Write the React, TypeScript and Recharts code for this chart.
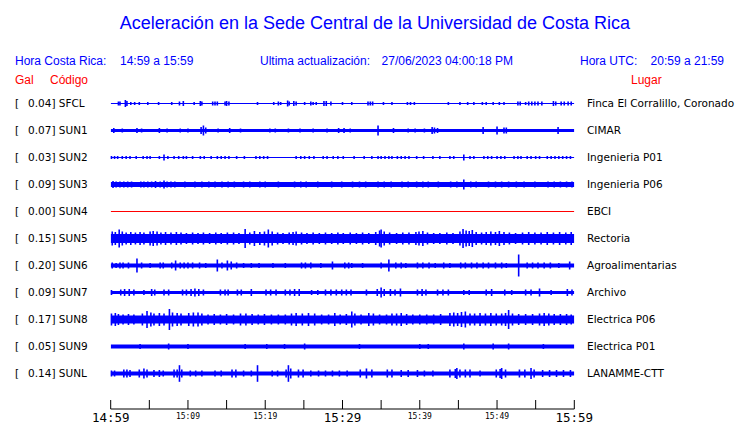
import React from 'react';
import { ComposedChart, Area, Scatter, ErrorBar, XAxis, YAxis } from 'recharts';

const stationCodes = ['SFCL', 'SUN1', 'SUN2', 'SUN3', 'SUN4', 'SUN5', 'SUN6', 'SUN7', 'SUN8', 'SUN9', 'SUNL'];
const peakGal = [0.04, 0.07, 0.03, 0.09, 0.0, 0.15, 0.2, 0.09, 0.17, 0.05, 0.14];
const places = [
  'Finca El Corralillo, Coronado',
  'CIMAR',
  'Ingenieria P01',
  'Ingenieria P06',
  'EBCI',
  'Rectoria',
  'Agroalimentarias',
  'Archivo',
  'Electrica P06',
  'Electrica P01',
  'LANAMME-CTT',
];

// amplitudes are in 1/27 of the distance between two traces
const TRACE_UNIT = 27;
// continuous background noise, half height
const noiseLevel = [0.5, 1.5, 0.6, 2.5, 0.5, 4.5, 2, 1.5, 4, 2, 2];

// [minute after 14:59, half height]
const sfclBursts = [
  [1.0, 2], [1.2, 2], [1.9, 3.5], [2.1, 2.5], [2.6, 1.5], [3.1, 1.5], [3.7, 1.5], [4.8, 1.5], [6.2, 1.5],
  [7.9, 1.5], [8.9, 2], [9.4, 2.5], [10.8, 1.5], [11.6, 2.5], [11.8, 2], [13.2, 2], [13.5, 2], [13.8, 2],
  [14.8, 2], [15.0, 2.5], [15.3, 2], [19.0, 1.5], [21.1, 1.5], [21.7, 2], [22.0, 1.5], [22.9, 3], [23.1, 2],
  [23.7, 2.5], [24.0, 2], [25.1, 1.5], [25.9, 2], [26.2, 1.5], [26.6, 1.5], [27.6, 2.5], [27.9, 2.5],
  [28.5, 2], [30.0, 1.5], [31.2, 1.5], [33.3, 2], [33.6, 2], [33.9, 2], [35.3, 1.5], [36.4, 1.5],
  [38.4, 1.5], [38.8, 1.5], [39.3, 1.5], [43.7, 1.5], [45.2, 1.5], [46.2, 1.5], [47.0, 1.5], [48.1, 1.5],
  [48.6, 1.5], [49.5, 1.5], [50.3, 1.5], [50.9, 1.5], [52.7, 2], [53.0, 2], [53.7, 1.5], [54.1, 2],
  [54.5, 2], [54.9, 2], [55.3, 2], [55.8, 2], [57.3, 2.5], [57.6, 2], [58.3, 2], [58.7, 2], [59.2, 2], [59.6, 2],
];
const sun1Bursts = [
  [0.4, 2.5], [1.5, 2], [3.4, 2.5], [4.0, 2], [6.3, 2.5], [7.3, 2], [9.0, 2], [10.0, 2], [11.7, 3.5],
  [12.0, 5], [12.3, 3], [13.9, 2], [15.4, 2.5], [16.8, 2], [20.6, 2], [21.3, 2], [23.0, 2], [24.5, 2],
  [26.2, 2], [28.0, 2], [29.5, 2.5], [30.2, 2.5], [31.0, 2], [34.6, 5], [36.6, 2.5], [38.5, 2], [39.4, 2],
  [40.6, 2], [41.6, 3.5], [41.9, 3], [42.3, 2.5], [48.2, 3.5], [50.0, 4], [50.9, 3], [51.2, 3], [57.9, 3.5],
];
const sun2Bursts = [
  [0.1, 1.5], [0.5, 1.5], [0.9, 1.5], [1.5, 1.5], [2.0, 1.5], [2.5, 1.5], [3.3, 1.5], [4.2, 1.5], [4.7, 1.5],
  [5.1, 1.5], [6.3, 1.5], [6.9, 3], [7.4, 1.5], [8.2, 1.5], [8.8, 1.5], [9.4, 1.5], [9.8, 1.5], [10.6, 1.5],
  [11.6, 1.5], [12.1, 1.5], [13.0, 1.5], [13.8, 1.5], [14.3, 1.5], [14.8, 1.5], [15.3, 1.5], [16.3, 1.5],
  [17.3, 1.5], [18.8, 1.5], [19.3, 1.5], [19.8, 1.5], [20.3, 1.5], [24.0, 1.5], [24.6, 1.5], [25.1, 1.5],
  [25.7, 1.5], [26.3, 1.5], [27.5, 1.5], [28.0, 1.5], [28.8, 1.5], [29.4, 1.5], [30.1, 1.5], [31.5, 1.5],
  [32.8, 1.5], [33.8, 1.5], [34.6, 1.5], [35.0, 1.5], [35.5, 1.5], [36.0, 1.5], [36.4, 1.5], [37.1, 1.5],
  [37.6, 1.5], [38.1, 1.5], [38.6, 1.5], [39.6, 1.5], [40.5, 1.5], [41.7, 1.5], [42.6, 1.5], [43.9, 1.5],
  [44.4, 1.5], [45.7, 3], [46.5, 1.5], [47.0, 1.5], [48.3, 1.5], [48.8, 1.5], [49.3, 1.5], [50.0, 1.5],
  [50.5, 1.5], [51.0, 1.5], [52.2, 1.5], [52.7, 1.5], [53.1, 1.5], [53.9, 1.5], [54.4, 1.5], [55.0, 1.5],
  [55.5, 1.5], [56.5, 1.5], [57.0, 1.5], [57.5, 1.5], [58.0, 1.5], [58.5, 1.5], [59.0, 1.5], [59.5, 1.5],
];
const sun3Bursts = [
  [0.3, 3.5], [0.7, 3], [1.2, 3], [1.7, 3], [2.2, 3], [2.7, 3], [3.9, 3], [4.3, 3], [4.8, 3], [5.3, 3],
  [5.8, 3.5], [6.4, 3], [6.9, 4], [7.3, 3], [7.8, 3], [8.3, 3], [9.6, 3], [10.9, 3], [11.8, 3], [12.7, 3],
  [13.5, 3], [14.4, 3], [15.2, 3], [16.0, 3], [17.2, 3], [18.0, 3], [19.3, 3], [20.0, 3], [21.7, 3],
  [23.8, 3], [24.6, 3], [25.3, 3], [26.8, 3], [28.6, 3], [29.9, 3], [31.3, 3], [32.2, 3], [33.0, 3],
  [34.6, 3], [35.4, 3], [36.3, 3], [37.7, 3], [38.5, 3], [39.6, 3], [40.4, 3], [41.1, 3], [42.4, 3],
  [44.0, 3], [44.8, 3], [45.7, 5], [46.6, 3], [47.3, 3], [48.9, 3], [49.8, 3], [50.6, 3], [51.5, 3],
  [52.5, 3], [53.5, 3], [54.9, 3], [56.6, 3], [57.4, 3], [58.2, 3], [59.0, 3], [59.7, 3],
];
const sun4Bursts: number[][] = [];
const sun5Bursts = [
  [0.2, 7], [0.6, 6.5], [1.1, 9], [1.5, 7], [2.0, 6], [2.6, 6.5], [3.2, 6], [3.8, 6.5], [4.3, 6], [5.1, 7],
  [5.5, 7.5], [6.0, 7], [6.5, 6], [7.1, 6.5], [7.8, 6], [8.5, 6.5], [9.1, 6], [9.8, 5.5], [10.6, 6],
  [11.3, 5.5], [12.0, 6], [12.8, 5.5], [13.6, 6], [14.3, 5.5], [15.1, 6], [15.9, 6], [16.6, 5.5], [17.4, 9.5],
  [18.0, 6], [18.6, 7.5], [19.3, 6.5], [19.9, 7], [20.4, 9], [20.9, 7], [21.6, 6], [22.3, 5.5], [23.1, 6],
  [23.6, 6.5], [24.0, 7], [24.7, 6], [25.4, 5.5], [26.2, 6], [27.0, 5.5], [27.8, 6], [28.6, 5.5], [29.4, 6],
  [30.1, 5.5], [31.0, 6], [31.8, 5.5], [32.6, 6], [33.4, 5.5], [34.3, 6.5], [34.8, 8], [35.0, 9], [35.4, 7],
  [36.1, 6], [37.0, 5.5], [37.8, 6], [38.6, 6], [39.5, 6.5], [39.9, 7], [40.4, 7.5], [41.0, 6], [41.8, 5.5],
  [42.6, 5.5], [43.5, 6], [44.3, 5.5], [45.2, 7], [45.6, 9.5], [46.0, 8], [46.4, 7.5], [46.8, 8.5],
  [47.3, 6.5], [48.0, 6], [48.6, 6.5], [49.2, 7], [49.8, 6.5], [50.3, 7.5], [50.9, 6.5], [51.6, 6],
  [52.4, 5.5], [53.3, 6], [54.1, 6.5], [54.9, 6], [55.7, 6], [56.5, 6.5], [57.3, 6], [58.1, 6.5], [58.9, 6],
  [59.6, 6.5],
];
const sun6Bursts = [
  [0.2, 3], [0.7, 2.5], [1.2, 3], [1.6, 3], [2.3, 3], [3.4, 7], [4.0, 3], [5.1, 2.5], [6.4, 3], [6.8, 3],
  [7.9, 3], [8.4, 5], [9.0, 3], [9.5, 3], [10.0, 3], [10.6, 3], [11.5, 3], [12.3, 2.5], [13.8, 6],
  [14.4, 3], [15.1, 5], [15.6, 4], [16.3, 3], [17.2, 2.5], [18.2, 2.5], [19.2, 2.5], [21.0, 2.5],
  [22.6, 2.5], [24.7, 3], [25.2, 3], [25.9, 3], [27.2, 2.5], [28.7, 4], [30.3, 3], [30.8, 3], [31.2, 2.5],
  [32.6, 2.5], [35.0, 3], [36.0, 6], [36.9, 3], [37.6, 3], [38.2, 2.5], [39.7, 3], [40.4, 3], [41.2, 3],
  [42.0, 2.5], [43.1, 3], [43.9, 2.5], [45.3, 3], [45.9, 3], [46.7, 3], [47.4, 3], [48.2, 3], [48.9, 3],
  [49.8, 3], [50.6, 3], [51.2, 2.5], [52.8, 11], [53.9, 3], [54.6, 3], [55.3, 3], [56.1, 3], [56.9, 3],
  [58.0, 2.5], [59.4, 4],
];
const sun7Bursts = [
  [0.1, 2.5], [1.3, 3], [1.8, 3.5], [2.4, 3.5], [3.0, 3], [4.3, 2.5], [5.3, 3.5], [5.7, 3], [6.9, 3],
  [7.5, 3], [9.3, 3], [9.8, 3], [10.4, 3.5], [10.9, 4], [11.4, 3.5], [12.0, 3], [14.2, 3], [14.8, 3],
  [15.2, 3], [16.4, 3], [16.9, 3], [18.2, 3.5], [20.1, 3], [20.7, 3], [21.4, 3], [22.6, 3], [23.2, 3],
  [23.8, 3.5], [24.4, 3.5], [26.0, 2.5], [26.8, 2.5], [27.8, 3], [28.5, 3], [29.2, 3], [29.9, 3], [30.5, 3],
  [31.1, 3], [33.1, 3], [34.5, 3.5], [35.0, 5], [35.4, 3.5], [36.2, 3.5], [36.8, 3], [37.5, 4], [39.7, 3],
  [40.3, 3.5], [40.8, 3], [42.3, 3], [43.0, 3], [43.7, 3], [45.7, 2.5], [46.4, 2.5], [48.6, 3], [49.3, 3.5],
  [51.0, 3], [51.9, 2.5], [53.7, 3], [54.4, 3], [55.5, 4], [57.0, 2.5], [59.1, 3.5], [59.7, 3],
];
const sun8Bursts = [
  [0.1, 6], [0.6, 6.5], [1.0, 5.5], [1.6, 5], [2.3, 5.5], [3.0, 5], [4.1, 6], [4.7, 8.5], [5.2, 7], [5.6, 6],
  [6.3, 6.5], [6.9, 6], [7.6, 10.5], [8.0, 7], [8.6, 6.5], [9.1, 6], [10.1, 6.5], [10.7, 7], [11.3, 7],
  [11.8, 6], [12.6, 5], [13.4, 5.5], [14.2, 5], [15.0, 5.5], [15.9, 5], [16.8, 6], [17.5, 6], [18.3, 5.5],
  [19.1, 5], [19.9, 5.5], [20.8, 5], [21.7, 5], [22.6, 5], [23.4, 6], [24.0, 6.5], [24.8, 6], [25.6, 6.5],
  [26.4, 6], [27.3, 5], [28.2, 5], [29.0, 6.5], [29.7, 5], [30.5, 5.5], [31.2, 8], [31.6, 6], [32.4, 5],
  [33.4, 6.5], [34.0, 6], [34.8, 5], [35.7, 5], [36.4, 6], [37.0, 6], [37.6, 6.5], [38.3, 5.5], [39.1, 5],
  [40.0, 5], [40.9, 5], [41.8, 5], [42.7, 5.5], [43.9, 6.5], [44.4, 7], [44.9, 6.5], [45.4, 7.5], [45.9, 8],
  [46.5, 6], [47.1, 6], [47.8, 6.5], [48.5, 6], [49.2, 6.5], [49.9, 6], [50.6, 6], [51.1, 6.5], [51.5, 9.5],
  [52.0, 6], [52.8, 5.5], [53.7, 5.5], [54.6, 5.5], [55.5, 6], [56.1, 6.5], [56.7, 6], [57.4, 5.5],
  [58.2, 5.5], [59.0, 5.5], [59.6, 5],
];
const sun9Bursts = [
  [3.8, 2.5], [7.5, 3], [10.0, 2.5], [17.4, 2.5], [20.2, 2.5], [22.5, 2.5], [25.1, 3], [32.2, 2.5],
  [40.0, 2.5], [41.1, 2.5], [45.7, 3], [49.5, 3], [51.5, 3], [56.0, 2.5],
];
const sunlBursts = [
  [0.1, 3], [0.5, 3], [1.7, 4], [2.1, 4], [2.5, 3.5], [3.7, 4], [4.3, 5], [4.7, 4], [5.6, 3.5], [6.3, 3.5],
  [6.8, 3], [8.2, 4], [8.6, 4], [8.9, 8.3], [9.2, 4], [10.3, 3], [11.0, 3], [11.8, 3], [13.5, 3], [14.3, 3],
  [15.7, 4], [16.2, 4], [17.2, 3], [18.2, 3], [19.0, 8.3], [20.9, 3], [21.6, 3], [22.7, 4], [23.0, 8.3],
  [23.3, 5], [24.3, 4], [24.9, 4], [25.9, 3], [26.9, 3], [27.8, 3], [28.7, 3], [29.6, 3], [30.6, 3],
  [32.3, 4], [33.1, 5], [33.8, 4], [35.8, 4], [36.4, 4], [37.6, 3.5], [38.5, 3.5], [39.7, 3.5], [40.6, 3],
  [41.7, 3], [43.9, 4], [44.6, 4.5], [44.8, 5.5], [45.2, 4], [45.9, 4], [46.5, 4], [47.8, 3], [49.9, 4],
  [50.4, 4.5], [50.6, 5.5], [51.1, 4], [52.9, 4], [53.6, 4], [54.4, 5.5], [54.8, 4], [55.9, 3.5],
  [56.8, 3.5], [57.7, 3.5], [58.6, 3.5], [59.5, 3.5],
];
const bursts = [
  sfclBursts, sun1Bursts, sun2Bursts, sun3Bursts, sun4Bursts, sun5Bursts,
  sun6Bursts, sun7Bursts, sun8Bursts, sun9Bursts, sunlBursts,
];

const windowMinutes = [0, 60];
const tickMinutes = [0, 5, 10, 15, 20, 25, 30, 35, 40, 45, 50, 55, 60];
const tickLabels = ['14:59', '', '15:09', '', '15:19', '', '15:29', '', '15:39', '', '15:49', '', '15:59'];
const majorLabels = ['14:59', '15:29', '15:59'];

const N = stationCodes.length;
const level = (i: number) => N - 1 - i;
const stationLevels = stationCodes.map((_, i) => level(i));
const yDomain = [-1.3148, 10.3148];

const BLUE = '#0000ff';
const SANS = '"Liberation Sans", Arial, sans-serif';
const DEJAVU = '"DejaVu Sans", sans-serif';

function TimeTick(props: any) {
  const { x, y, payload } = props;
  const label = tickLabels[tickMinutes.indexOf(payload.value)];
  const major = majorLabels.includes(label);
  return (
    <g>
      <line x1={x} x2={x} y1={y - 9} y2={y} stroke="#000" strokeWidth={1} />
      {label && (
        <text
          x={x}
          y={y + (major ? 12.5 : 9.5)}
          textAnchor="middle"
          fontFamily='"DejaVu Sans Mono", monospace'
          fontSize={major ? 12.5 : 8}
          fill="#000"
        >
          {label}
        </text>
      )}
    </g>
  );
}

function CodeTick(props: any) {
  const { y, payload } = props;
  const i = N - 1 - payload.value;
  return (
    <g fontFamily={DEJAVU} fontSize={10.5} fill="#000">
      <text x={15} y={y} dy="0.36em">[</text>
      <text x={28} y={y} dy="0.36em">{`${peakGal[i].toFixed(2)}] ${stationCodes[i]}`}</text>
    </g>
  );
}

function PlaceTick(props: any) {
  const { y, payload } = props;
  const i = N - 1 - payload.value;
  return (
    <text x={587} y={y} dy="0.36em" fontFamily={DEJAVU} fontSize={10.5} fill="#000">
      {places[i]}
    </text>
  );
}

export default function App() {
  return (
    <div style={{ position: 'absolute', left: 0, top: 0, width: 740, height: 423, background: '#fff' }}>
      <svg width={740} height={95} style={{ position: 'absolute', left: 0, top: 0 }}>
        <text x={375} y={29} textAnchor="middle" fontFamily={SANS} fontSize={18} fill={BLUE}>
          Aceleración en la Sede Central de la Universidad de Costa Rica
        </text>
        <g fontFamily={SANS} fontSize={12} fill={BLUE}>
          <text x={15} y={65}>Hora Costa Rica:</text>
          <text x={120} y={65}>14:59 a 15:59</text>
          <text x={260} y={65}>Ultima actualización:</text>
          <text x={513} y={65} textAnchor="end">27/06/2023 04:00:18 PM</text>
          <text x={580} y={65}>Hora UTC:</text>
          <text x={724} y={65} textAnchor="end">20:59 a 21:59</text>
        </g>
        <g fontFamily={SANS} fontSize={12} fill="#ff0000">
          <text x={15} y={84}>Gal</text>
          <text x={50} y={84}>Código</text>
          <text x={631} y={84}>Lugar</text>
        </g>
      </svg>
      <div style={{ position: 'absolute', left: 0, top: 0 }}>
        <ComposedChart width={740} height={423} margin={{ top: 95, right: 0, bottom: 0, left: 0 }}>
          <XAxis
            dataKey="t"
            type="number"
            domain={windowMinutes}
            ticks={tickMinutes}
            interval={0}
            height={14}
            tickSize={0}
            tickMargin={0}
            tickLine={false}
            axisLine={{ stroke: '#000' }}
            tick={(p: any) => <TimeTick {...p} />}
            allowDataOverflow
          />
          <YAxis
            yAxisId="left"
            orientation="left"
            type="number"
            width={110.7}
            domain={yDomain}
            ticks={stationLevels}
            interval={0}
            axisLine={false}
            tickLine={false}
            tick={(p: any) => <CodeTick {...p} />}
            allowDataOverflow
          />
          <YAxis
            yAxisId="right"
            orientation="right"
            type="number"
            width={165.7}
            domain={yDomain}
            ticks={stationLevels}
            interval={0}
            axisLine={false}
            tickLine={false}
            tick={(p: any) => <PlaceTick {...p} />}
            allowDataOverflow
          />
          {stationCodes.map((code, i) => {
            const v = level(i);
            const b = noiseLevel[i] / TRACE_UNIT;
            const color = bursts[i].length ? BLUE : '#ff0000';
            return (
              <Area
                key={`band-${code}`}
                yAxisId="left"
                data={windowMinutes.map((t) => ({ t, band: [v - b, v + b] }))}
                dataKey="band"
                type="linear"
                stroke="none"
                fill={color}
                fillOpacity={1}
                dot={false}
                activeDot={false}
                isAnimationActive={false}
              />
            );
          })}
          {stationCodes.map((code, i) => {
            const v = level(i);
            const pts = bursts[i].map(([t, a]) => ({ t, y: v, e: a / TRACE_UNIT }));
            return (
              <Scatter
                key={`burst-${code}`}
                yAxisId="left"
                data={pts}
                dataKey="y"
                fill={BLUE}
                shape={() => <g />}
                isAnimationActive={false}
              >
                <ErrorBar dataKey="e" direction="y" width={0} stroke={BLUE} strokeWidth={1.6} isAnimationActive={false} />
              </Scatter>
            );
          })}
        </ComposedChart>
      </div>
    </div>
  );
}
